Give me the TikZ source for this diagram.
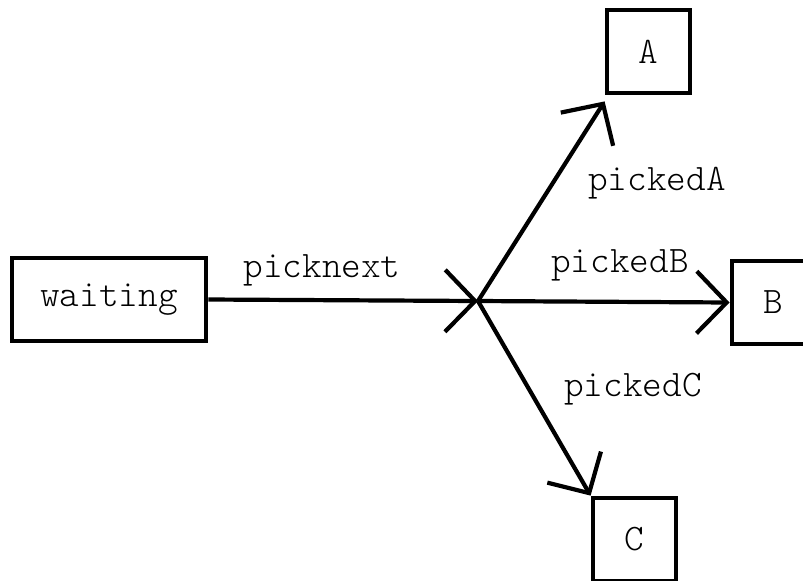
\documentclass[tikz,border=0pt]{standalone}
\usepackage{fontspec}
\setmonofont{Latin Modern Mono Light}
\usetikzlibrary{arrows.meta}
\tikzset{
  txt/.style={font=\ttfamily\fontsize{18.7}{22}\selectfont},
  state/.style={draw, line width=2.4pt, inner sep=0pt, txt},
  lbl/.style={inner sep=0pt, txt},
  trans/.style={line width=2.1pt, -{Straight Barb[length=15pt, width=31pt, line width=2.1pt]}}
}
\begin{document}
\begin{tikzpicture}[x=0.5pt, y=-0.5pt]
  \useasboundingbox (0,0) rectangle (803,580);
  \fill[white] (0,0) rectangle (803,580);

  % states
  \node[state, minimum width=97pt, minimum height=41.5pt] (waiting) at (109,299.5) {waiting};
  \node[state, minimum size=41.5pt] (A) at (648.5,51.5) {A};
  \node[state, minimum size=41.5pt] (B) at (773.5,302.5) {B};
  \node[state, minimum size=41.5pt] (C) at (634.5,539.5) {C};

  % branching point
  \coordinate (j) at (478,301);

  % transitions
  \draw[trans] (waiting.east) -- (j);
  \draw[trans] (j) -- ([yshift=-3pt]A.south west);
  \draw[trans] (j) -- (B.west);
  \draw[trans] (j) -- (C.north west);

  % labels
  \node[lbl] (lnext) at (322,270) {picknext};
  \node[lbl] (la) at (657,183) {pickedA};
  \node[lbl] (lb) at (620,265) {pickedB};
  \node[lbl] (lc) at (633,389) {pickedC};
\end{tikzpicture}
\end{document}
